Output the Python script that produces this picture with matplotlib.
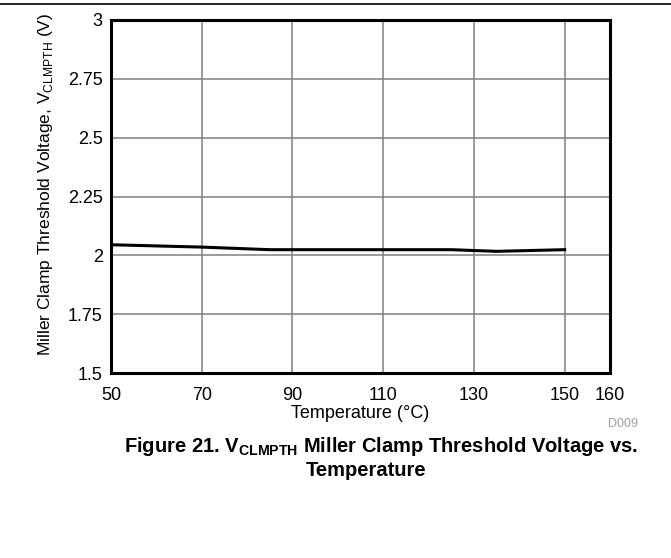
import matplotlib
matplotlib.use('Agg')
import matplotlib.pyplot as plt
from matplotlib.lines import Line2D

plt.rcParams['font.family'] = ['Liberation Sans', 'DejaVu Sans']
plt.rcParams['mathtext.fontset'] = 'custom'
plt.rcParams['mathtext.rm'] = 'Liberation Sans'
plt.rcParams['mathtext.bf'] = 'Liberation Sans:bold'

# data
temperature = [50, 70, 85, 110, 125, 135, 150]
v_clmpth = [2.045, 2.035, 2.024, 2.024, 2.024, 2.017, 2.024]

x_ticks = [50, 70, 90, 110, 130, 150, 160]
y_ticks = [1.5, 1.75, 2, 2.25, 2.5, 2.75, 3]
y_ticklabels = ['1.5', '1.75', '2', '2.25', '2.5', '2.75', '3']

fig = plt.figure(figsize=(6.71, 5.58), dpi=100)
ax = fig.add_axes([111 / 671, 1 - 373 / 558, (610 - 111) / 671, (373 - 20) / 558])

ax.plot(temperature, v_clmpth, color='black', lw=2.2, zorder=3)

ax.set_xlim(50, 160)
ax.set_ylim(1.5, 3)
ax.set_xticks(x_ticks)
ax.set_yticks(y_ticks)
ax.set_yticklabels(y_ticklabels)
ax.grid(True, color='#808080', lw=1.1)
ax.tick_params(length=0, labelsize=13, colors='black')
ax.tick_params(axis='x', pad=10)
ax.tick_params(axis='y', pad=6)
for s in ax.spines.values():
    s.set_linewidth(2.2)
    s.set_color('black')

ax.set_xlabel('Temperature (°C)', fontsize=13, labelpad=1)
ax.set_ylabel(r'Miller Clamp Threshold Voltage, V$_{\mathrm{CLMPTH}}$ (V)', fontsize=12.5)
ax.yaxis.set_label_coords(-0.113, 0.533)

fig.text(638 / 671, 1 - 424 / 558, 'D009', fontsize=9, color='#a0a0a0', ha='right', va='center')
fig.text(381 / 671, 1 - 446 / 558,
         r'Figure 21. V$_{\mathbf{CLMPTH}}$ Miller Clamp Threshold Voltage vs.',
         fontsize=14.5, fontweight='bold', ha='center', va='center')
fig.text(366 / 671, 1 - 470 / 558, 'Temperature', fontsize=14.5, fontweight='bold',
         ha='center', va='center')

fig.add_artist(Line2D([0, 1], [1 - 4 / 558, 1 - 4 / 558], color='black', lw=1.2,
                      transform=fig.transFigure))

fig.savefig('out.png', dpi=100)
